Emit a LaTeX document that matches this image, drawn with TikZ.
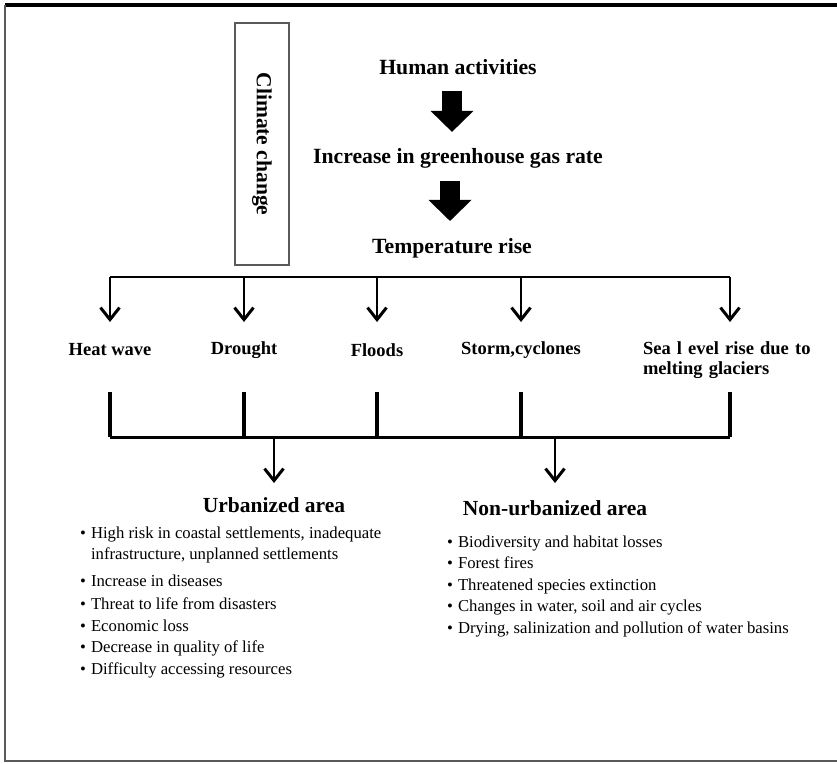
\documentclass[tikz,border=0pt]{standalone}
\usepackage{fontspec}
\setmainfont{Liberation Serif}
\usepackage{xcolor}
\usepackage{tikz}
\usetikzlibrary{positioning, arrows.meta}
\tikzset{
	toptext/.style={font=\fontsize{21.7}{26}\selectfont\bfseries, inner sep=0pt},
	heading/.style={font=\fontsize{21.5}{26}\selectfont\bfseries, inner sep=0pt},
	effect/.style={font=\fontsize{18.5}{20}\selectfont\bfseries, inner sep=0pt, align=left},
	itemlist/.style={font=\fontsize{16.7}{21.5}\selectfont, inner sep=0pt, anchor=north west},
	blockarrow/.style={line width=20pt, -{Triangle[length=21pt, width=43pt, line width=0pt]}},
	thinarrow/.style={line width=2.6pt, -{Straight Barb[length=12pt, width=19pt, line width=3pt]}},
	stem/.style={line width=4pt},
	bar/.style={line width=3pt},
}
\definecolor{Frame}{RGB}{90, 90, 90}

\begin{document}
\begin{tikzpicture}[x=1pt, y=-1pt]
\useasboundingbox (0,0) rectangle (837,763);
\draw[line width=4pt] (5,5) -- (837,5);
\draw[line width=2.5pt, Frame] (5,5) -- (5,761) -- (837,761);

\node[heading, draw=Frame, line width=1.3pt, rotate=-90, minimum width=242pt, minimum height=54pt] (climate) at (262,144) {Climate change};

\node[toptext] (human) at (458,67) {Human activities};
\node[toptext] (ghg) at (458,158) {Increase in greenhouse gas rate};
\node[toptext] (temp) at (452,248) {Temperature rise};

\draw[blockarrow] ([shift={(-6,16)}]human.south) -- ([shift={(-6,-16)}]ghg.north);
\draw[blockarrow] ([shift={(-8,13)}]ghg.south) -- ([shift={(-2,-17)}]temp.north);

\coordinate (tbar) at (0,277);
\coordinate (ttip) at (0,322);
\coordinate (lstem) at (0,392);
\coordinate (lbar) at (0,437);
\coordinate (htip) at (0,483);

\node[effect] (heat) at (110,350) {Heat wave};
\node[effect] (drought) at (244,350) {Drought};
\node[effect] (floods) at (377,350) {Floods};
\node[effect] (storm) at (521,350) {Storm,cyclones};
\node[effect, text width=174pt] (sea) at (730,360) {Sea l evel rise due to\\melting glaciers};

\draw[line width=2.6pt] (heat.north |- tbar) -- (sea.north |- tbar);
\draw[thinarrow] (heat.north |- tbar) -- (heat.north |- ttip);
\draw[thinarrow] (drought.north |- tbar) -- (drought.north |- ttip);
\draw[thinarrow] (floods.north |- tbar) -- (floods.north |- ttip);
\draw[thinarrow] (storm.north |- tbar) -- (storm.north |- ttip);
\draw[thinarrow] (sea.north |- tbar) -- (sea.north |- ttip);

\draw[stem] (heat.south |- lstem) -- (heat.south |- lbar);
\draw[stem] (drought.south |- lstem) -- (drought.south |- lbar);
\draw[stem] (floods.south |- lstem) -- (floods.south |- lbar);
\draw[stem] (storm.south |- lstem) -- (storm.south |- lbar);
\draw[stem] (sea.south |- lstem) -- (sea.south |- lbar);
\draw[bar] (heat.south |- lbar) -- (sea.south |- lbar);

\node[heading] (urban) at (274,505) {Urbanized area};
\node[heading] (rural) at (555,508) {Non-urbanized area};

\draw[thinarrow] (urban.north |- lbar) -- (urban.north |- htip);
\draw[thinarrow] (rural.north |- lbar) -- (rural.north |- htip);

\node[itemlist] (urbanlist) at (80,523) {\begin{tabular}{@{}l@{\hspace{5pt}}l@{}}
\textbullet & High risk in coastal settlements, inadequate\\
 & infrastructure, unplanned settlements\\[5pt]
\textbullet & Increase in diseases\\[2pt]
\textbullet & Threat to life from disasters\\
\textbullet & Economic loss\\
\textbullet & Decrease in quality of life\\
\textbullet & Difficulty accessing resources
\end{tabular}};

\node[itemlist] (rurallist) at (447,532) {\begin{tabular}{@{}l@{\hspace{5pt}}l@{}}
\textbullet & Biodiversity and habitat losses\\
\textbullet & Forest fires\\
\textbullet & Threatened species extinction\\
\textbullet & Changes in water, soil and air cycles\\
\textbullet & Drying, salinization and pollution of water basins
\end{tabular}};

\end{tikzpicture}
\end{document}
